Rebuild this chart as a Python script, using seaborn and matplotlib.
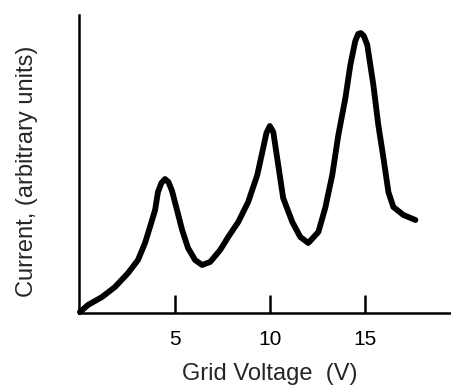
import pandas as pd
import matplotlib
matplotlib.use("Agg")
import matplotlib.pyplot as plt
import seaborn as sns

# ---------------------------
# Data
# ---------------------------
voltage = [0.0, 0.42, 1.16, 1.84, 2.53, 3.05, 3.42, 3.68, 3.95, 4.1, 4.28, 4.47,
           4.65, 4.84, 5.1, 5.37, 5.68, 6.05, 6.42, 6.84, 7.37, 7.79, 8.32,
           8.84, 9.32, 9.63, 9.8, 9.98, 10.16, 10.42, 10.68, 11.16, 11.58, 12.0,
           12.53, 12.89, 13.26, 13.58, 13.95, 14.21, 14.47, 14.62, 14.76, 14.92,
           15.1, 15.42, 15.68, 15.95, 16.21, 16.47, 17.0, 17.63]
current = [1, 8, 16, 26, 40, 53, 70, 86, 103, 121, 130, 134,
           131, 122, 103, 83, 65, 53, 48, 51, 63, 76, 91,
           111, 138, 165, 180, 187, 181, 148, 115, 91, 76, 70,
           81, 105, 138, 178, 215, 248, 272, 279, 280, 277,
           268, 228, 188, 155, 121, 106, 98, 93]
tick_values = [5, 10, 15]
tick_labels = ["5", "10", "15"]

df = pd.DataFrame({"voltage": voltage, "current": current})

# ---------------------------
# Plot
# ---------------------------
sns.set_style("white")
plt.rcParams["font.family"] = ["Liberation Sans", "DejaVu Sans"]

fig = plt.figure(figsize=(4.51, 3.92), dpi=100)
ax = fig.add_axes([79 / 451, 79 / 392, 372 / 451, 298 / 392])

sns.lineplot(data=df, x="voltage", y="current", ax=ax, color="black",
             linewidth=4.2, solid_joinstyle="round", solid_capstyle="round",
             clip_on=False)

ax.set_xlim(-0.05, 19.5)
ax.set_ylim(0, 298)

for side in ["top", "right"]:
    ax.spines[side].set_visible(False)
for side in ["left", "bottom"]:
    ax.spines[side].set_color("black")
    ax.spines[side].set_linewidth(1.8)

ax.set_xticks(tick_values)
ax.set_xticklabels(tick_labels, fontsize=15)
ax.set_yticks([])
ax.tick_params(axis="x", direction="in", length=13, width=1.8, pad=12,
               colors="black", bottom=True)

ax.set_xlabel("Grid Voltage  (V)", fontsize=17)
ax.set_ylabel("Current, (arbitrary units)", fontsize=17)
ax.xaxis.set_label_coords(0.513, -0.168)
ax.xaxis.label.set_va("top")
ax.yaxis.set_label_coords(-0.11, 0.475)

fig.savefig("out.png", dpi=100)
